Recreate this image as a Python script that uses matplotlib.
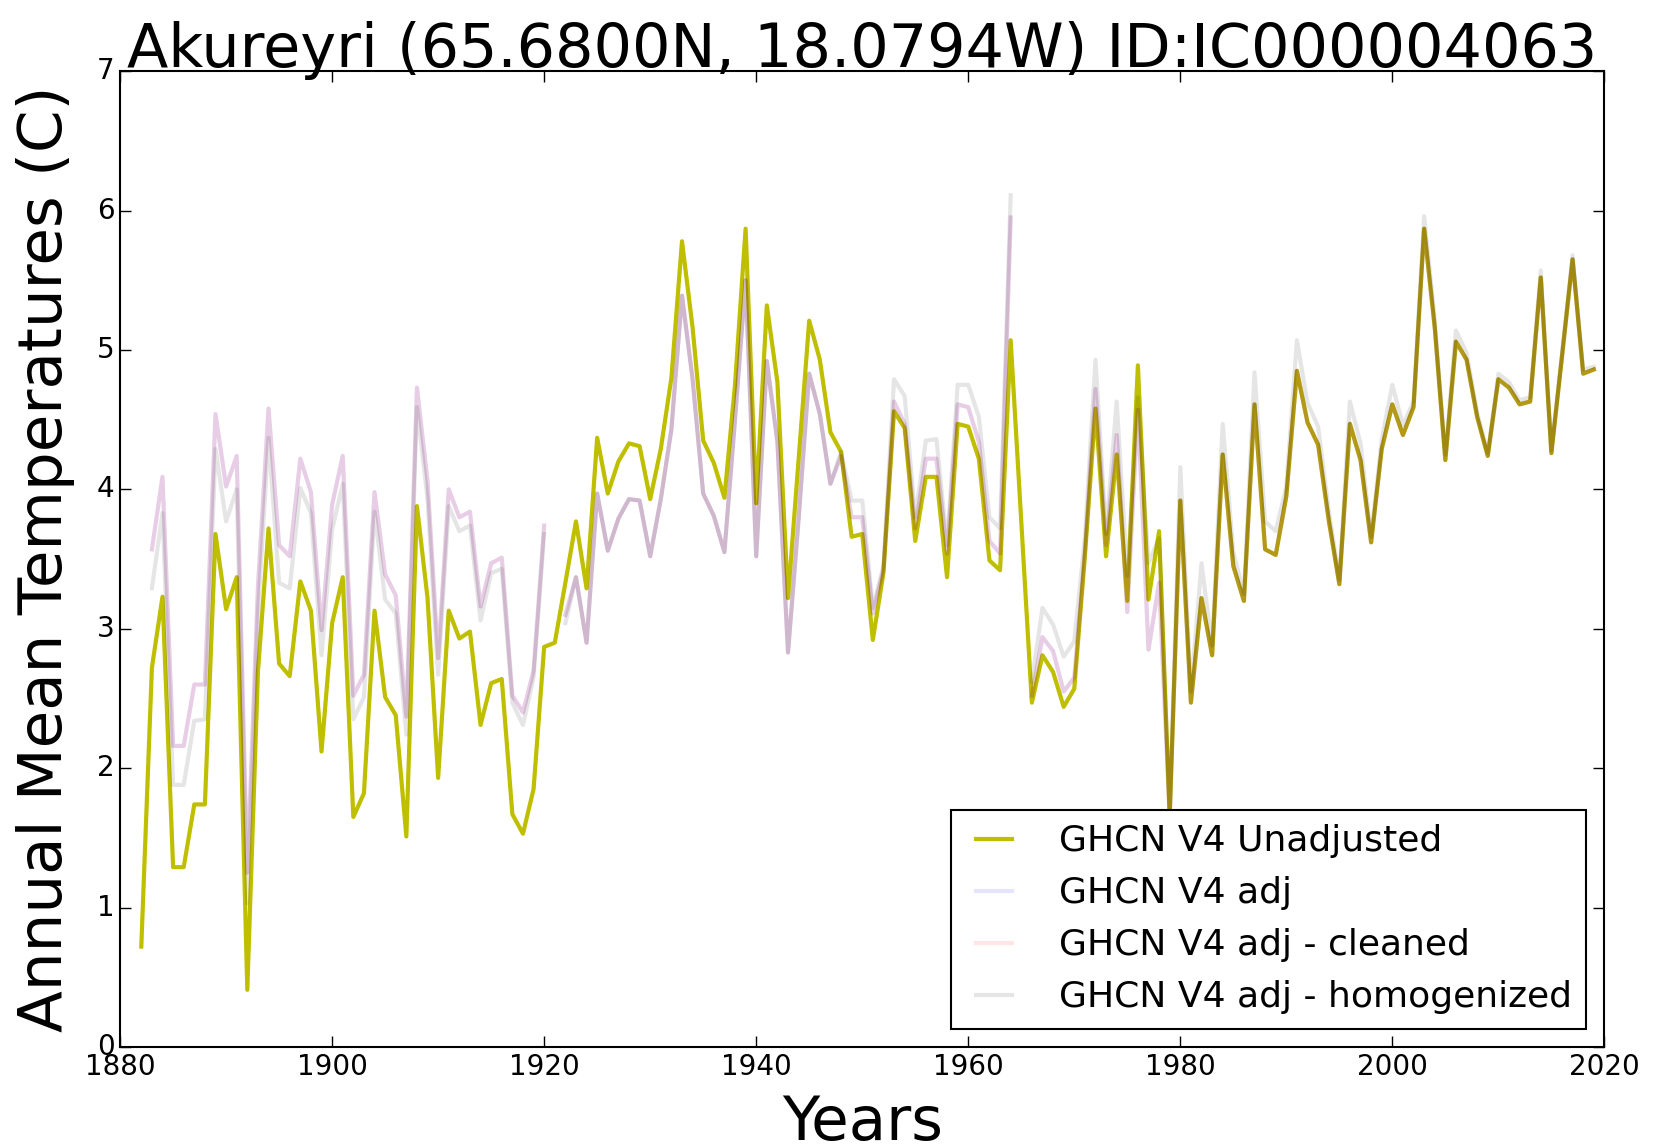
import numpy as np
import matplotlib
matplotlib.use('Agg')
import matplotlib.pyplot as plt

plt.style.use('classic')

years = np.arange(1882, 2020)

# GHCN V4 unadjusted annual means (1882-2019), 1965 missing
unadj = [0.72, 2.72, 3.23, 1.29, 1.29, 1.74, 1.74, 3.68, 3.14, 3.37,
         0.41, 2.69, 3.72, 2.75, 2.66, 3.34, 3.13, 2.12, 3.04, 3.37,
         1.65, 1.82, 3.13, 2.51, 2.38, 1.51, 3.88, 3.22, 1.93, 3.13,
         2.93, 2.98, 2.31, 2.61, 2.64, 1.67, 1.53, 1.85, 2.87, 2.90,
         3.33, 3.77, 3.29, 4.37, 3.97, 4.20, 4.33, 4.31, 3.93, 4.29,
         4.80, 5.78, 5.16, 4.35, 4.19, 3.94, 4.75, 5.87, 3.90, 5.32,
         4.77, 3.22, 4.22, 5.21, 4.93, 4.41, 4.27, 3.66, 3.68, 2.92,
         3.40, 4.56, 4.44, 3.63, 4.09, 4.09, 3.37, 4.47, 4.45, 4.22,
         3.49, 3.42, 5.07, np.nan, 2.47, 2.81, 2.69, 2.44, 2.57, 3.52,
         4.58, 3.52, 4.25, 3.20, 4.89, 3.21, 3.70, 1.65, 3.92, 2.47,
         3.22, 2.81, 4.25, 3.45, 3.20, 4.61, 3.57, 3.53, 3.95, 4.85,
         4.48, 4.32, 3.78, 3.32, 4.47, 4.21, 3.62, 4.29, 4.61, 4.39,
         4.59, 5.87, 5.16, 4.21, 5.06, 4.93, 4.52, 4.24, 4.79, 4.73,
         4.61, 4.63, 5.52, 4.26, 4.95, 5.65, 4.83, 4.86]

# GHCN V4 adjusted 1882-1979 (same as unadjusted afterwards)
adj_early = [np.nan, 3.57, 4.09, 2.16, 2.16, 2.60, 2.60, 4.54, 4.02, 4.24,
             1.25, 3.30, 4.58, 3.60, 3.52, 4.22, 3.98, 2.99, 3.89, 4.24,
             2.52, 2.67, 3.98, 3.39, 3.24, 2.37, 4.73, 4.06, 2.79, 4.00,
             3.80, 3.84, 3.16, 3.47, 3.51, 2.52, 2.40, 2.70, 3.74, np.nan,
             3.10, 3.37, 2.90, 3.97, 3.56, 3.79, 3.93, 3.92, 3.52, 3.93,
             4.43, 5.39, 4.79, 3.97, 3.81, 3.55, 4.50, 5.50, 3.52, 4.92,
             4.34, 2.83, 3.79, 4.83, 4.54, 4.04, 4.24, 3.80, 3.80, 3.11,
             3.42, 4.63, 4.47, 3.72, 4.22, 4.22, 3.54, 4.61, 4.59, 4.34,
             3.63, 3.54, 5.95, np.nan, 2.52, 2.94, 2.84, 2.55, 2.65, 3.55,
             4.72, 3.60, 4.39, 3.12, 4.57, 2.85, 3.33, 1.65]
adj = adj_early + unadj[len(adj_early):]
cleaned = list(adj)

homog = [np.nan, 3.29, 3.83, 1.88, 1.88, 2.34, 2.35, 4.29, 3.77, 4.00,
         1.03, 3.10, 4.37, 3.33, 3.29, 4.01, 3.83, 2.81, 3.71, 4.04,
         2.35, 2.51, 3.84, 3.21, 3.11, 2.24, 4.59, 3.93, 2.67, 3.88,
         3.70, 3.74, 3.06, 3.40, 3.43, 2.47, 2.31, 2.65, 3.68, np.nan,
         3.04, 3.37, 2.90, 3.97, 3.56, 3.79, 3.93, 3.92, 3.52, 3.93,
         4.43, 5.39, 4.79, 3.97, 3.81, 3.55, 4.50, 5.50, 3.52, 4.92,
         4.34, 2.83, 3.79, 4.83, 4.54, 4.04, 4.27, 3.92, 3.92, 3.15,
         3.45, 4.79, 4.67, 3.80, 4.35, 4.36, 3.60, 4.75, 4.75, 4.52,
         3.80, 3.72, 6.11, np.nan, 2.62, 3.15, 3.03, 2.80, 2.91, 3.65,
         4.93, 3.68, 4.63, 3.38, 4.66, 3.47, 3.65, 1.70, 4.16, 2.55,
         3.47, 2.88, 4.47, 3.55, 3.25, 4.84, 3.77, 3.70, 4.02, 5.07,
         4.62, 4.45, 3.85, 3.35, 4.63, 4.33, 3.66, 4.36, 4.75, 4.46,
         4.63, 5.96, 5.22, 4.25, 5.14, 4.98, 4.55, 4.26, 4.83, 4.77,
         4.64, 4.66, 5.57, 4.28, 4.98, 5.68, 4.86, 4.88]

unadj = np.array(unadj)
fig = plt.figure(figsize=(16.54, 11.48), dpi=100, facecolor='w')
ax = fig.add_axes([0.0726, 0.088, 0.8974, 0.850])

m = np.isfinite(unadj)
ax.plot(years[m], unadj[m], color='y', lw=3, label='GHCN V4 Unadjusted')
ax.plot(years, adj, color='b', alpha=0.1, lw=3, label='GHCN V4 adj')
ax.plot(years, cleaned, color='r', alpha=0.1, lw=3, label='GHCN V4 adj - cleaned')
ax.plot(years, homog, color='k', alpha=0.1, lw=3, label='GHCN V4 adj - homogenized')

ax.set_xlim(1880, 2020)
ax.set_ylim(0, 7)
ax.set_xticks(range(1880, 2021, 20))
ax.set_yticks(range(0, 8))
ax.tick_params(labelsize=20, length=8, width=1)
ax.set_title('Akureyri (65.6800N, 18.0794W) ID:IC000004063', fontsize=43.5, pad=3)
ax.set_xlabel('Years', fontsize=44, labelpad=10)
ax.set_ylabel('Annual Mean Temperatures (C)', fontsize=44, labelpad=16)
for s in ax.spines.values():
    s.set_linewidth(1.5)

leg = ax.legend(loc='lower right', fontsize=26, handlelength=1.6,
                handletextpad=1.0, labelspacing=0.5, borderpad=0.4,
                borderaxespad=0.5)
leg.get_frame().set_linewidth(1.5)

fig.savefig('out.png', dpi=100, facecolor='w')
